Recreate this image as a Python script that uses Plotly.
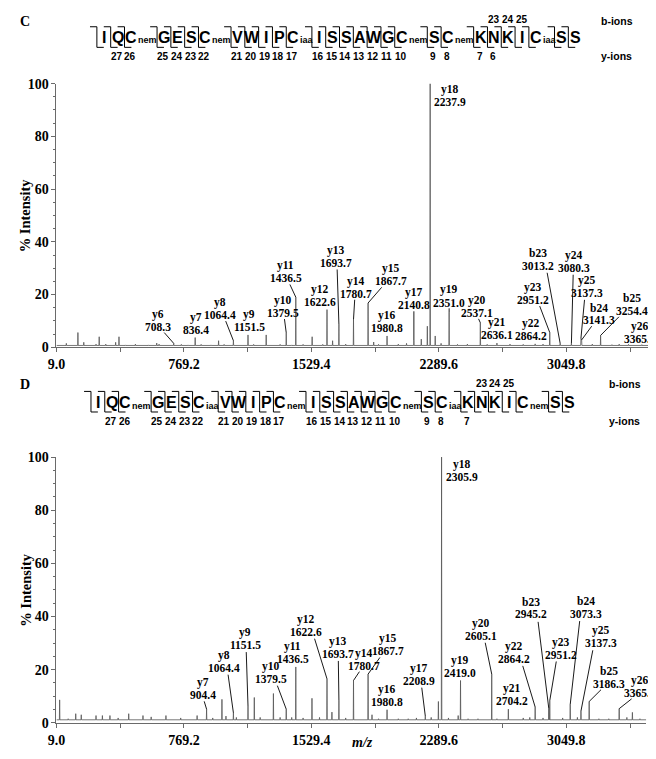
import plotly.graph_objects as go

W, H = 656, 759

# ------------------------------------------------------------------ data
residues = ["I", "Q", "C", "G", "E", "S", "C", "V", "W", "I", "P", "C", "I", "S",
            "S", "A", "W", "G", "C", "S", "C", "K", "N", "K", "I", "C", "S", "S"]
mods_C = ["", "", "nem", "", "", "", "nem", "", "", "", "", "iaa", "", "",
          "", "", "", "", "nem", "", "nem", "", "", "", "", "iaa", "", ""]
mods_D = ["", "", "nem", "", "", "", "iaa", "", "", "", "", "nem", "", "",
          "", "", "", "", "nem", "", "iaa", "", "", "", "", "nem", "", ""]
y_ion_numbers_C = [27, 26, 25, 24, 23, 22, 21, 20, 19, 18, 17, 16, 15, 14, 13, 12, 11, 10, 9, 8, 7, 6]
y_ion_numbers_D = [27, 26, 25, 24, 23, 22, 21, 20, 19, 18, 17, 16, 15, 14, 13, 12, 11, 10, 9, 8, 7]
b_ion_numbers = [23, 24, 25]

x_tick_labels = ["9.0", "769.2", "1529.4", "2289.6", "3049.8"]
y_tick_labels = ["0", "20", "40", "60", "80", "100"]

# panel C – assigned peaks
C_ion = ["y6", "y7", "y8", "y9", "y10", "y11", "y12", "y13", "y14", "y15", "y16", "y17",
         "y18", "y19", "y20", "y21", "y22", "y23", "b23", "y24", "y25", "b24", "b25", "y26"]
C_ion_mz = [708.3, 836.4, 1064.4, 1151.5, 1379.5, 1436.5, 1622.6, 1693.7, 1780.7, 1867.7,
            1980.8, 2140.8, 2237.9, 2351.0, 2537.1, 2636.1, 2864.2, 2951.2, 3013.2, 3080.3,
            3137.3, 3141.3, 3254.4, 3365.3]
C_ion_int = [1.5, 3.7, 2.5, 4.7, 5.5, 19.0, 14.3, 8.7, 10.6, 16.8, 4.3, 2.5, 100.0, 13.3,
             9.3, 1.6, 1.3, 5.6, 1.5, 1.5, 3.5, 2.8, 4.5, 1.2]
# panel C – other visible peaks
C_other_mz = [68, 137, 172, 245, 264, 303, 362, 382, 421, 480, 558, 607, 621, 754, 794, 872,
              931, 976, 1009, 1185, 1260, 1343, 1412, 1480, 1534, 1597, 1656, 1734, 1901, 1930,
              2048, 2097, 2185, 2221, 2268, 2303, 2401, 2460, 2578, 2714, 2793, 2911, 3205,
              3322, 3421, 3500, 3578, 3615]
C_other_int = [1.5, 5.6, 1.9, 1.2, 4.0, 1.2, 1.9, 4.0, 0.9, 1.2, 0.9, 1.6, 1.2, 1.1, 0.9, 1.1,
               0.9, 2.5, 1.1, 1.1, 4.7, 1.1, 0.9, 1.1, 4.0, 1.1, 2.5, 1.2, 2.0, 1.1,
               1.2, 1.5, 3.1, 8.0, 4.3, 1.5, 1.1, 1.2, 1.1, 1.2, 1.1, 1.2, 1.2,
               1.0, 1.1, 1.0, 1.3, 2.0]
C_baseline = 0.7

# panel D – assigned peaks
D_ion = ["y7", "y8", "y9", "y10", "y11", "y12", "y13", "y14", "y15", "y16", "y17", "y18",
         "y19", "y20", "y21", "y22", "b23", "y23", "b24", "y25", "b25", "y26"]
D_ion_mz = [904.4, 1064.4, 1151.5, 1379.5, 1436.5, 1622.6, 1693.7, 1780.7, 1867.7, 1980.8,
            2208.9, 2305.9, 2419.0, 2605.1, 2704.2, 2864.2, 2945.2, 2951.2, 3073.3, 3137.3,
            3186.3, 3365.3]
D_ion_int = [5.1, 3.7, 6.3, 5.1, 21.0, 16.5, 8.5, 15.9, 18.3, 4.9, 2.5, 100.0, 15.9, 18.3,
             5.1, 5.9, 5.5, 8.3, 6.9, 4.4, 8.0, 5.3]
# panel D – other visible peaks
D_other_mz = [28, 79, 124, 157, 245, 283, 328, 377, 440, 525, 574, 662, 750, 848, 941, 996,
              1020, 1082, 1189, 1224, 1303, 1343, 1412, 1480, 1533, 1578, 1652, 1734, 1891,
              1930, 2048, 2107, 2156, 2244, 2287, 2347, 2405, 2464, 2523, 2636, 2793, 2832,
              2911, 3028, 3116, 3244, 3303, 3411, 3444, 3489]
D_other_int = [8.6, 1.5, 3.4, 3.0, 2.7, 2.7, 2.7, 1.8, 3.4, 2.7, 2.2, 2.7, 1.8, 2.7, 1.8, 8.8,
               2.5, 2.0, 9.5, 2.0, 11.0, 2.0, 2.0, 1.8, 9.2, 2.0, 4.0, 1.8, 3.0,
               1.5, 1.5, 1.5, 1.8, 2.0, 8.0, 1.8, 2.7, 1.5, 1.5, 1.5, 1.8, 2.0,
               1.8, 1.8, 2.0, 1.5, 1.5, 2.0, 3.9, 1.5]
D_baseline = 1.1

# ------------------------------------------------------------------ layout (pixels)
# label-centre offsets in pixels from each peak top (dy < 0 = above)
C_label_off = [(-16, -23), (1, -14), (-13, -32), (1, -14), (-3, -26), (-10, -25), (-7, -14),
               (-3, -68), (2, -32), (23, -28), (0, -14), (0, -42), (20, 12), (0, -16), (-3, -16),
               (0, -14), (-4, -14), (-17, -39), (-22, -84), (3, -82), (6, -51), (17, -26),
               (31, -31), (21, -11)]
D_label_off = [(-4, -20), (-9, -51), (-3, -67), (-15, -36), (-3, -14), (-21, -53), (-1, -52),
               (10, -21), (20, -29), (0, -14), (-6, -41), (20, 14), (-1, -14), (-11, -44), (4, -14),
               (-21, -54), (-18, -100), (11, -52), (16, -97), (20, -74), (20, -24), (21, -22)]

PX_PER_MZ = 0.170
X0_PX = 40
C_plot = dict(top=70, bottom=339, right=656)
D_plot = dict(top=451, bottom=722, right=638)
LINE_GAP = 6.3   # half distance between the two lines of a peak label


def px(x):
    return x / W


def py(y):
    return 1 - y / H


def mz_at(xpix):
    return 9.0 + (xpix - X0_PX) / PX_PER_MZ


def profile(mz_a, int_a, mz_b, int_b, base, x_end):
    pk = sorted(list(zip(mz_a, int_a)) + list(zip(mz_b, int_b)))
    xs, ys = [9.0], [base]
    for m, h in pk:
        xs += [m - 1.5, m, m + 1.5]
        ys += [base, h, base]
    xs.append(x_end)
    ys.append(base)
    return xs, ys


fig = go.Figure()
SERIF = "Liberation Serif"
SANS = "Liberation Sans"
AXC = "#6a6a6a"

annotations = []
shapes = []

panels = [
    ("C", "", C_plot, C_ion, C_ion_mz, C_ion_int, C_other_mz, C_other_int, C_baseline, C_label_off),
    ("D", "2", D_plot, D_ion, D_ion_mz, D_ion_int, D_other_mz, D_other_int, D_baseline, D_label_off),
]

for name, sfx, geo, ion, imz, iint, omz, oint, base, offs in panels:
    x_end = mz_at(geo["right"])
    ppy = (geo["bottom"] - geo["top"]) / 100.0
    xs, ys = profile(imz, iint, omz, oint, base, x_end)
    fig.add_trace(go.Scatter(x=xs, y=ys, mode="lines", xaxis="x" + sfx, yaxis="y" + sfx,
                             line=dict(color="#555555", width=0.8), hoverinfo="skip",
                             showlegend=False))
    # leader lines from peak top to label
    lx, ly = [], []
    for m, h, (dx, dy) in zip(imz, iint, offs):
        up = -dy - 12
        if up > 3:
            lx += [m, m + 0.6 * dx / PX_PER_MZ, None]
            ly += [h, h + up / ppy, None]
    fig.add_trace(go.Scatter(x=lx, y=ly, mode="lines", xaxis="x" + sfx, yaxis="y" + sfx,
                             line=dict(color="black", width=0.9), hoverinfo="skip",
                             showlegend=False, cliponaxis=False))
    xv = [float(t) for t in x_tick_labels]
    yv = [float(t) for t in y_tick_labels]
    fig.update_layout(**{
        "xaxis" + sfx: dict(domain=[px(X0_PX), px(geo["right"])], range=[9.0, x_end],
                            anchor="y" + sfx, showline=True, linecolor=AXC, linewidth=1,
                            ticks="outside", ticklen=4, tickcolor=AXC, tickwidth=1,
                            tickvals=xv, ticktext=x_tick_labels,
                            minor=dict(dtick=(xv[1] - xv[0]) / 2, tick0=xv[0], ticks="outside",
                                       ticklen=4, tickcolor=AXC),
                            tickfont=dict(family=SERIF, size=14, color="black", weight="bold"),
                            showgrid=False, zeroline=False, fixedrange=True),
        "yaxis" + sfx: dict(domain=[py(geo["bottom"]), py(geo["top"])], range=[0, 100],
                            anchor="x" + sfx, showline=True, linecolor=AXC, linewidth=1,
                            ticks="outside", ticklen=4, tickcolor=AXC, tickwidth=1,
                            tickvals=yv, ticktext=y_tick_labels,
                            minor=dict(dtick=5, tick0=0, ticks="outside", ticklen=2,
                                       tickcolor=AXC),
                            tickfont=dict(family=SERIF, size=14, color="black", weight="bold"),
                            showgrid=False, zeroline=False, fixedrange=True),
    })
    # y-axis title
    annotations.append(dict(xref="paper", yref="paper", x=px(9),
                            y=py((geo["top"] + geo["bottom"]) / 2), text="% Intensity",
                            textangle=-90, showarrow=False, xanchor="center", yanchor="middle",
                            font=dict(family=SERIF, size=14.5, color="black", weight="bold")))
    # peak labels (two lines)
    fnt = dict(family=SERIF, size=11.5, color="black", weight="bold")
    for lab, m, h, (dx, dy) in zip(ion, imz, iint, offs):
        for txt, sh in ((lab, LINE_GAP), (f"{m:.1f}", -LINE_GAP)):
            annotations.append(dict(xref="x" + sfx, yref="y" + sfx, x=m, y=h, text=txt,
                                    showarrow=False, xanchor="center", yanchor="middle",
                                    xshift=dx, yshift=-dy + sh, font=fnt))

annotations.append(dict(xref="paper", yref="paper", x=px(350), y=py(752), text="<i>m/z</i>",
                        showarrow=False, font=dict(family=SERIF, size=14, color="black",
                                                   weight="bold")))

# ------------------------------------------------------------------ sequence headers
ADV = {"": 14, "nem": 33, "iaa": 26}
headers = [
    ("C", mods_C, y_ion_numbers_C, dict(x0=88, letter=22.5, top=12, bot=33, num=42, bnum=5,
                                         tag=7, bions=(608, 6), yions=(608, 42))),
    ("D", mods_D, y_ion_numbers_D, dict(x0=82, letter=395, top=384, bot=405, num=415, bnum=376,
                                         tag=377, bions=(616, 376), yions=(616, 414))),
]
for tag, mods, ynums, g in headers:
    annotations.append(dict(xref="paper", yref="paper", x=px(8), y=py(g["tag"]), text=tag,
                            showarrow=False, xanchor="center", yanchor="middle",
                            font=dict(family=SERIF, size=14, color="black", weight="bold")))
    xs = []
    x = g["x0"]
    for r, m in zip(residues, mods):
        xs.append(x)
        x += ADV[m]
    for i, (r, m) in enumerate(zip(residues, mods)):
        annotations.append(dict(xref="paper", yref="paper", x=px(xs[i]), y=py(g["letter"]),
                                text=r, showarrow=False, xanchor="center", yanchor="middle",
                                font=dict(family=SANS, size=16, color="black", weight="bold")))
        if m:
            annotations.append(dict(xref="paper", yref="paper", x=px(xs[i] + 5),
                                    y=py(g["letter"] + 3.5), text=m, showarrow=False,
                                    xanchor="left", yanchor="middle",
                                    font=dict(family=SANS, size=9, color="black",
                                              weight="bold")))
        b = xs[i] - 7
        path = (f"M {px(b - 7)} {py(g['top'])} L {px(b)} {py(g['top'])} "
                f"L {px(b)} {py(g['bot'])} L {px(b + 7)} {py(g['bot'])}")
        shapes.append(dict(type="path", xref="paper", yref="paper", path=path,
                           line=dict(color="black", width=1)))
    n_res = len(residues)
    for n in ynums:
        idx = n_res - n
        annotations.append(dict(xref="paper", yref="paper", x=px(xs[idx] - 1), y=py(g["num"]),
                                text=str(n), showarrow=False, xanchor="center",
                                yanchor="middle",
                                font=dict(family=SANS, size=10, color="black", weight="bold")))
    for n in b_ion_numbers:
        idx = n - 1
        annotations.append(dict(xref="paper", yref="paper", x=px(xs[idx]), y=py(g["bnum"]),
                                text=str(n), showarrow=False, xanchor="center",
                                yanchor="middle",
                                font=dict(family=SANS, size=10, color="black", weight="bold")))
    for txt, pos in (("b-ions", g["bions"]), ("y-ions", g["yions"])):
        annotations.append(dict(xref="paper", yref="paper", x=px(pos[0]), y=py(pos[1]),
                                text=txt, showarrow=False, xanchor="center", yanchor="middle",
                                font=dict(family=SANS, size=10.5, color="black",
                                          weight="bold")))

fig.update_layout(width=W, height=H, margin=dict(l=0, r=0, t=0, b=0),
                  paper_bgcolor="white", plot_bgcolor="white",
                  annotations=annotations, shapes=shapes, showlegend=False)

fig.write_html("out.html")
